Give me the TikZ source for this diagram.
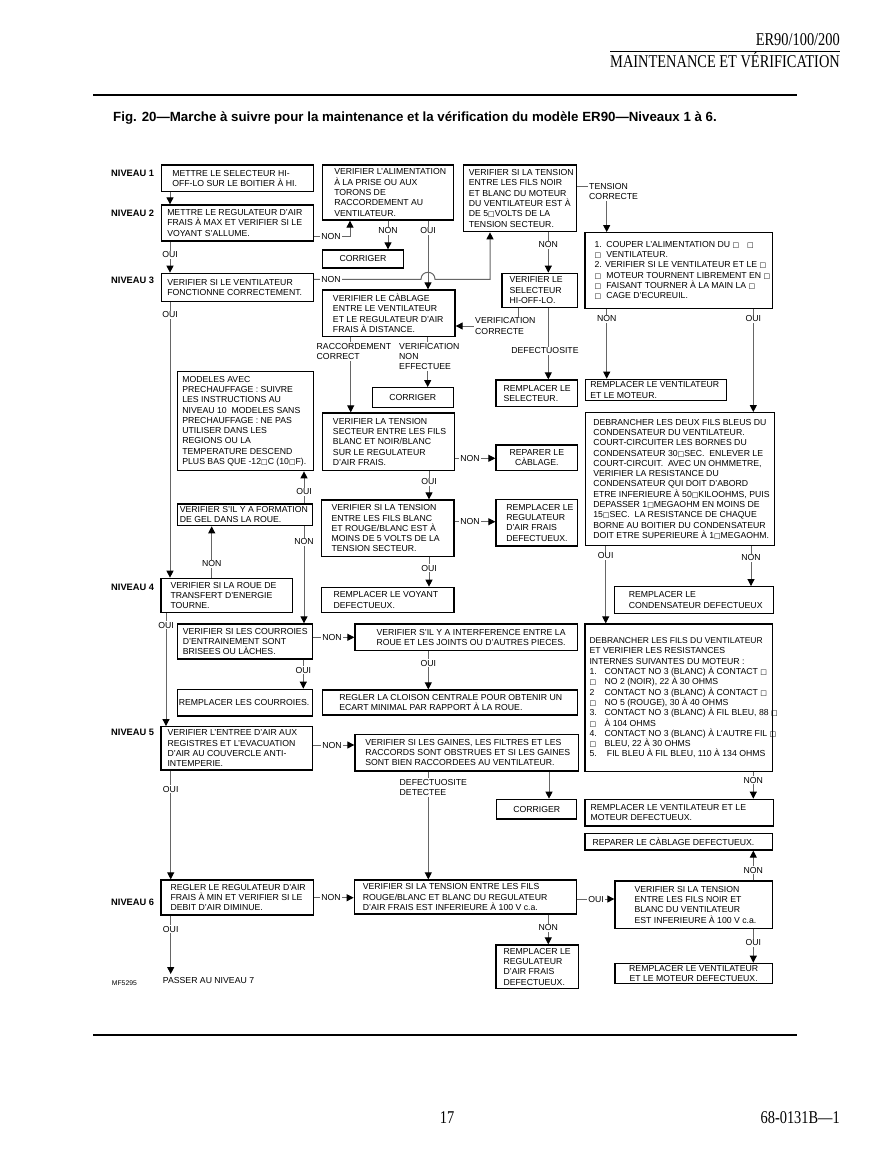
\documentclass[tikz,border=0pt]{standalone}
\usepackage{fontspec}
\setmainfont{Liberation Sans}
\newfontfamily\hdrfont[FakeStretch=0.8]{Liberation Serif}
\newfontfamily\dvfont{DejaVu Sans}
\usetikzlibrary{arrows.meta,fit}
\newcommand\sq{{\dvfont\fontsize{7}{7}\selectfont □}}
\newcommand\pfa[1]{\makebox[11.7pt][l]{#1}}
\newcommand\pfb[1]{\makebox[15pt][l]{#1}}
\newcommand\bx[7]{\node[box, fit={(#2,#3)(#4,#5)}] (#1) {};\node[txt] (#1t) at ([xshift=#6pt]#1.west) {#7};}
\newcommand\bxc[6]{\node[box, fit={(#2,#3)(#4,#5)}] (#1) {};\node[txt, anchor=center, align=center] (#1t) at (#1.center) {#6};}
\begin{document}
\begin{tikzpicture}[x=1pt,y=-1pt,
 box/.style={draw=black, line width=1.3pt, inner sep=0pt},
 txt/.style={font=\fontsize{8.7}{10.3}\selectfont, align=left, inner sep=0pt, anchor=west},
 conn/.style={draw=black!60, line width=1pt},
 arr/.style={conn, -{Triangle[length=7pt,width=7pt,color=black]}},
 lbl/.style={font=\fontsize{8.7}{10.3}\selectfont, fill=white, inner sep=1pt, align=left},
 lvl/.style={font=\bfseries\fontsize{9.3}{11}\selectfont, anchor=west, inner sep=0pt},
 hdr/.style={font=\hdrfont\fontsize{18}{18}\selectfont, inner sep=0pt}]
\fill[white] (0,0) rectangle (892,1155);
\useasboundingbox (0,0) rectangle (892,1155);

% header / footer
\node[hdr, anchor=base east] (h1) at (840,46) {ER90/100/200};
\node[hdr, anchor=base east] (h2) at (840,68) {MAINTENANCE ET VÉRIFICATION};
\draw[line width=0.6pt] (h2.west |- 0,51) -- (h2.east |- 0,51);
\coordinate (r1a) at (93,95); \coordinate (r1b) at (797,95);
\draw[line width=1.6pt] (r1a) -- (r1b);
\node[anchor=base west, inner sep=0pt, font=\bfseries\fontsize{13.3}{15}\selectfont] (title) at (113,122) {Fig. 20—Marche à suivre pour la maintenance et la vérification du modèle ER90—Niveaux 1 à 6.};
\coordinate (r2a) at (93,1035); \coordinate (r2b) at (797,1035);
\draw[line width=1.6pt] (r2a) -- (r2b);
\node[hdr, anchor=base] (pg) at (447,1123) {17};
\node[hdr, anchor=base east] (doc) at (840,1123) {68-0131B—1};

% level labels
\node[lvl] (n1) at (111,173) {NIVEAU 1};
\node[lvl] (n2) at (111,213) {NIVEAU 2};
\node[lvl] (n3) at (111,280) {NIVEAU 3};
\node[lvl] (n4) at (111,587) {NIVEAU 4};
\node[lvl] (n5) at (111,732) {NIVEAU 5};
\node[lvl] (n6) at (111,902) {NIVEAU 6};

% boxes
\bx{B1}{161.7}{165}{313.3}{191.7}{11}{METTRE LE SELECTEUR HI-\\OFF-LO SUR LE BOITIER À HI.}
\bx{B2}{161.7}{205}{313.3}{241}{6}{METTRE LE REGULATEUR D'AIR\\FRAIS À MAX ET VERIFIER SI LE\\VOYANT S'ALLUME.}
\bx{B3}{161.7}{273.3}{313.3}{301.7}{6}{VERIFIER SI LE VENTILATEUR\\FONCTIONNE CORRECTEMENT.}
\bx{B4}{322.7}{165}{453.3}{220}{12}{VERIFIER L'ALIMENTATION\\À LA PRISE OU AUX\\TORONS DE\\RACCORDEMENT AU\\VENTILATEUR.}
\bxc{C1}{322.7}{250}{403.3}{268}{CORRIGER}
\bx{B5}{322.7}{290}{455}{336.7}{10.7}{VERIFIER LE CÀBLAGE\\ENTRE LE VENTILATEUR\\ET LE REGULATEUR D'AIR\\FRAIS À DISTANCE.}
\bx{B6}{463.3}{165}{576.7}{231.7}{6}{VERIFIER SI LA TENSION\\ENTRE LES FILS NOIR\\ET BLANC DU MOTEUR\\DU VENTILATEUR EST À\\DE 5\sq VOLTS DE LA\\TENSION SECTEUR.}
\bx{B7}{502}{273.3}{577.7}{307.3}{8}{VERIFIER LE\\SELECTEUR\\HI-OFF-LO.}
\bx{B8}{496}{380}{577.7}{406.7}{8}{REMPLACER LE\\SELECTEUR.}
\bx{B9}{585}{232.7}{772.3}{308.3}{10}{\fontsize{8.7}{12}\selectfont
\pfa{1.}COUPER L'ALIMENTATION DU \sq\hspace{8pt}\sq\\
\pfa{\sq}VENTILATEUR.\\
2. VERIFIER SI LE VENTILATEUR ET LE \sq\\
\pfa{\sq}MOTEUR TOURNENT LIBREMENT EN \sq\\
\pfa{\sq}FAISANT TOURNER À LA MAIN LA \sq\\
\pfa{\sq}CAGE D'ECUREUIL.}
\bx{B11}{585.7}{379.3}{726.7}{400.7}{5}{REMPLACER LE VENTILATEUR\\ET LE MOTEUR.}
\bx{B12}{585.7}{412.7}{774.3}{545.7}{8}{DEBRANCHER LES DEUX FILS BLEUS DU\\CONDENSATEUR DU VENTILATEUR.\\COURT-CIRCUITER LES BORNES DU\\CONDENSATEUR 30\sq SEC.\ \ ENLEVER LE\\COURT-CIRCUIT.\ \ AVEC UN OHMMETRE,\\VERIFIER LA RESISTANCE DU\\CONDENSATEUR QUI DOIT D'ABORD\\ETRE INFERIEURE À 50\sq KILOOHMS, PUIS\\DEPASSER 1\sq MEGAOHM EN MOINS DE\\15\sq SEC.\ \ LA RESISTANCE DE CHAQUE\\BORNE AU BOITIER DU CONDENSATEUR\\DOIT ETRE SUPERIEURE À 1\sq MEGAOHM.}
\bx{B13}{614.3}{586.7}{773.3}{613.3}{15}{REMPLACER LE\\CONDENSATEUR DEFECTUEUX}
\bx{B14}{585}{624}{772.3}{771.7}{5}{\fontsize{8.5}{11.7}\selectfont
DEBRANCHER LES FILS DU VENTILATEUR\\
ET VERIFIER LES RESISTANCES\\
INTERNES SUIVANTES DU MOTEUR :\\
\pfb{1.}CONTACT NO 3 (BLANC) À CONTACT \sq\\
\pfb{\sq}NO 2 (NOIR), 22 À 30 OHMS\\
\pfb{2}CONTACT NO 3 (BLANC) À CONTACT \sq\\
\pfb{\sq}NO 5 (ROUGE), 30 À 40 OHMS\\
\pfb{3.}CONTACT NO 3 (BLANC) À FIL BLEU, 88 \sq\\
\pfb{\sq}À 104 OHMS\\
\pfb{4.}CONTACT NO 3 (BLANC) À L'AUTRE FIL \sq\\
\pfb{\sq}BLEU, 22 À 30 OHMS\\
\pfb{5.}\ FIL BLEU À FIL BLEU, 110 À 134 OHMS}
\bx{B15}{585}{799.3}{773.3}{826}{6}{REMPLACER LE VENTILATEUR ET LE\\MOTEUR DEFECTUEUX.}
\bx{B16}{585}{833.3}{772.3}{850}{8}{REPARER LE CÀBLAGE DEFECTUEUX.}
\bx{B17}{161}{880}{313.3}{915}{10}{REGLER LE REGULATEUR D'AIR\\FRAIS À MIN ET VERIFIER SI LE\\DEBIT D'AIR DIMINUE.}
\bx{B18}{354.3}{880}{576.7}{914}{9}{VERIFIER SI LA TENSION ENTRE LES FILS\\ROUGE/BLANC ET BLANC DU REGULATEUR\\D'AIR FRAIS EST INFERIEURE À 100 V c.a.}
\bx{B19}{615}{881}{772.3}{928.3}{20}{VERIFIER SI LA TENSION\\ENTRE LES FILS NOIR ET\\BLANC DU VENTILATEUR\\EST INFERIEURE À 100 V c.a.}
\bxc{B20}{615}{963.3}{772.3}{983.3}{REMPLACER LE VENTILATEUR\\ET LE MOTEUR DEFECTUEUX.}
\bx{B21}{496}{945}{578.3}{988.3}{8}{REMPLACER LE\\REGULATEUR\\D'AIR FRAIS\\DEFECTUEUX.}
\bx{B22}{161}{578.3}{292.7}{612.7}{10}{VERIFIER SI LA ROUE DE\\TRANSFERT D'ENERGIE\\TOURNE.}
\bx{B23}{177.3}{504}{312.3}{525.7}{3}{VERIFIER S'IL Y A FORMATION\\DE GEL DANS LA ROUE.}
\bx{B24}{177.3}{371.7}{313.3}{470.7}{5.5}{MODELES AVEC\\PRECHAUFFAGE : SUIVRE\\LES INSTRUCTIONS AU\\NIVEAU 10\ \ MODELES SANS\\PRECHAUFFAGE : NE PAS\\UTILISER DANS LES\\REGIONS OU LA\\TEMPERATURE DESCEND\\PLUS BAS QUE -12\sq C (10\sq F).}
\bx{B25}{177.3}{624}{312.7}{659}{6}{VERIFIER SI LES COURROIES\\D'ENTRAINEMENT SONT\\BRISEES OU LÀCHES.}
\bx{B26}{355}{624}{577.7}{650.7}{22}{VERIFIER S'IL Y A INTERFERENCE ENTRE LA\\ROUE ET LES JOINTS OU D'AUTRES PIECES.}
\bx{B27}{322.7}{690}{577.7}{715}{17}{REGLER LA CLOISON CENTRALE POUR OBTENIR UN\\ECART MINIMAL PAR RAPPORT À LA ROUE.}
\bx{B28}{177.3}{689.3}{312.7}{716}{2}{REMPLACER LES COURROIES.}
\bx{B29}{161}{726.7}{312.7}{770}{7}{VERIFIER L'ENTREE D'AIR AUX\\REGISTRES ET L'EVACUATION\\D'AIR AU COUVERCLE ANTI-\\INTEMPERIE.}
\bx{B30}{355}{734.3}{578.3}{771}{10.7}{VERIFIER SI LES GAINES, LES FILTRES ET LES\\RACCORDS SONT OBSTRUES ET SI LES GAINES\\SONT BIEN RACCORDEES AU VENTILATEUR.}
\bxc{C3}{496.7}{799.3}{576.7}{819}{CORRIGER}
\bxc{C2}{372.3}{387.7}{453.3}{407.7}{CORRIGER}
\bx{B31}{322.7}{413}{454.3}{470.7}{10.7}{VERIFIER LA TENSION\\SECTEUR ENTRE LES FILS\\BLANC ET NOIR/BLANC\\SUR LE REGULATEUR\\D'AIR FRAIS.}
\bxc{B32}{496}{445}{577.7}{470.7}{REPARER LE\\CÀBLAGE.}
\bx{B33}{321.7}{500}{454}{556.7}{10.3}{VERIFIER SI LA TENSION\\ENTRE LES FILS BLANC\\ET ROUGE/BLANC EST À\\MOINS DE 5 VOLTS DE LA\\TENSION SECTEUR.}
\bx{B34}{496}{499.3}{577.7}{546}{10.7}{REMPLACER LE\\REGULATEUR\\D'AIR FRAIS\\DEFECTUEUX.}
\bx{B35}{321.7}{587.3}{454}{612.7}{12.3}{REMPLACER LE VOYANT\\DEFECTUEUX.}

% connectors
\draw[arr] (170,0 |- B1.south) -- (170,0 |- B2.north);
\draw[arr] (170,0 |- B2.south) -- (170,0 |- B3.north);
\draw[arr] (B2.east |- 0,237) -| (350,0 |- B4.south);
\draw[arr] (388,0 |- B4.south) -- (388,0 |- C1.north);
\draw[arr] (428,0 |- B4.south) -- (428,0 |- B5.north);
\draw[arr] (B3.east |- 0,279.3) -- (421,279.3) .. controls (421,270) and (435,270) .. (435,279.3) -- (490,279.3) -- (490,0 |- B6.south);
\draw[arr] (170,0 |- B3.south) -- (170,0 |- B22.north);
\draw[arr] (350.7,0 |- B5.south) -- (350.7,0 |- B31.north);
\draw[arr] (427.7,0 |- B5.south) -- (427.7,0 |- C2.north);
\draw[arr] (518,0 |- B7.south) |- (B5.east |- 0,326);
\draw[arr] (548.3,0 |- B6.south) -- (548.3,0 |- B7.north);
\draw[arr] (548.3,0 |- B7.south) -- (548.3,0 |- B8.north);
\draw[arr] (B6.east |- 0,186.7) -| (606.7,0 |- B9.north);
\draw[arr] (606.7,0 |- B9.south) -- (606.7,0 |- B11.north);
\draw[arr] (753.3,0 |- B9.south) -- (753.3,0 |- B12.north);
\draw[arr] (605.7,0 |- B12.south) -- (605.7,0 |- B14.north);
\draw[arr] (751,0 |- B12.south) -- (751,0 |- B13.north);
\draw[arr] (753.3,0 |- B14.south) -- (753.3,0 |- B15.north);
\draw[arr] (753.3,0 |- B19.north) -- (753.3,0 |- B16.south);
\draw[arr] (753.3,0 |- B19.south) -- (753.3,0 |- B20.north);
\draw[arr] (B18.east |- 0,899) -- (B19.west |- 0,899);
\draw[arr] (548.3,0 |- B18.south) -- (548.3,0 |- B21.north);
\draw[arr] (B17.east |- 0,897.7) -- (B18.west |- 0,897.7);
\coordinate (end7) at (170.7,974);
\draw[arr] (170.7,0 |- B17.south) -- (end7);
\node[txt] (p7) at (162.7,980.5) {PASSER AU NIVEAU 7};
\node[anchor=west, inner sep=0pt, font=\fontsize{6.8}{8}\selectfont] (mf) at (111.7,983.3) {MF5295};
\draw[arr] (166,0 |- B22.south) -- (166,0 |- B29.north);
\draw[arr] (211.7,0 |- B22.north) -- (211.7,0 |- B23.south);
\draw[arr] (304,0 |- B23.north) -- (304,0 |- B24.south);
\draw[arr] (304,0 |- B23.south) -- (304,0 |- B25.north);
\draw[arr] (B25.east |- 0,637.3) -- (B26.west |- 0,637.3);
\draw[arr] (303.3,0 |- B25.south) -- (303.3,0 |- B28.north);
\draw[arr] (428.3,0 |- B26.south) -- (428.3,0 |- B27.north);
\draw[arr] (B29.east |- 0,745) -- (B30.west |- 0,745);
\draw[arr] (170.7,0 |- B29.south) -- (170.7,0 |- B17.north);
\draw[arr] (428.3,0 |- B30.south) -- (428.3,0 |- B18.north);
\draw[arr] (549,0 |- B30.south) -- (549,0 |- C3.north);
\draw[arr] (B31.east |- 0,458.3) -- (B32.west |- 0,458.3);
\draw[arr] (429,0 |- B31.south) -- (429,0 |- B33.north);
\draw[arr] (B33.east |- 0,521.7) -- (B34.west |- 0,521.7);
\draw[arr] (429,0 |- B33.south) -- (429,0 |- B35.north);

% connector labels
\node[lbl] (l1) at (170,255) {OUI};
\node[lbl] (l2) at (331,237) {NON};
\node[lbl] (l3) at (388,231) {NON};
\node[lbl] (l4) at (428,231) {OUI};
\node[lbl] (l5) at (331,279.3) {NON};
\node[lbl] (l6) at (170,315) {OUI};
\node[lbl, anchor=north west] (l7) at (315.5,342) {RACCORDEMENT\\CORRECT};
\node[lbl, anchor=north west] (l8) at (398,342) {VERIFICATION\\NON\\EFFECTUEE};
\node[lbl, anchor=west] (l9) at (474,326) {VERIFICATION\\CORRECTE};
\node[lbl] (l10) at (548.3,245) {NON};
\node[lbl] (l11) at (545,350.7) {DEFECTUOSITE};
\node[lbl, anchor=west] (l12) at (588,191.7) {TENSION\\CORRECTE};
\node[lbl] (l13) at (606.7,319) {NON};
\node[lbl] (l14) at (753.3,319) {OUI};
\node[lbl] (l15) at (605.7,555.7) {OUI};
\node[lbl] (l16) at (751,557.7) {NON};
\node[lbl] (l17) at (753.3,780) {NON};
\node[lbl] (l18) at (753.3,870) {NON};
\node[lbl] (l19) at (753.3,942.7) {OUI};
\node[lbl] (l20) at (596,899) {OUI};
\node[lbl] (l21) at (548.3,927.7) {NON};
\node[lbl] (l22) at (331,897.7) {NON};
\node[lbl] (l23) at (170.7,929.3) {OUI};
\node[lbl] (l24) at (166,625) {OUI};
\node[lbl] (l25) at (211.7,564) {NON};
\node[lbl] (l26) at (304,491.7) {OUI};
\node[lbl] (l27) at (304,541.7) {NON};
\node[lbl] (l28) at (332,637.3) {NON};
\node[lbl] (l29) at (303.3,670) {OUI};
\node[lbl] (l30) at (428.3,663.3) {OUI};
\node[lbl] (l31) at (332,745) {NON};
\node[lbl] (l32) at (170.7,789.3) {OUI};
\node[lbl, anchor=north west] (l33) at (398.5,778) {DEFECTUOSITE\\DETECTEE};
\node[lbl] (l34) at (470,458.3) {NON};
\node[lbl] (l35) at (429,481.7) {OUI};
\node[lbl] (l36) at (470,521.7) {NON};
\node[lbl] (l37) at (429,568.3) {OUI};
\end{tikzpicture}
\end{document}
